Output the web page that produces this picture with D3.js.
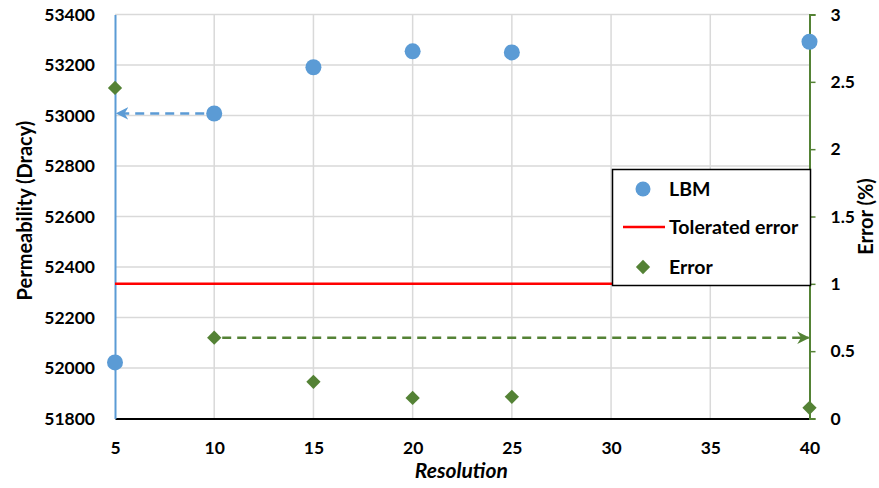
<!DOCTYPE html>
<html>
<head>
<meta charset="utf-8">
<script src="https://cdn.jsdelivr.net/npm/d3@7"></script>
<style>
  body { margin: 0; background: #fff; }
  text { font-family: Lato, "Open Sans", sans-serif; font-weight: bold; fill: #000; }
</style>
</head>
<body>
<svg id="chart" width="879" height="488"></svg>
<script>
// Grid resolution vs. permeability (left axis) and relative error (right axis)
const resolutions = [5, 10, 15, 20, 25, 40];
const lbmPermeability = [52022, 53008, 53191, 53254, 53250, 53292];
const errorPercent = [2.455, 0.60, 0.272, 0.153, 0.161, 0.079];
const toleratedError = 1;
const xTicks = [5, 10, 15, 20, 25, 30, 35, 40];
const leftTicks = [51800, 52000, 52200, 52400, 52600, 52800, 53000, 53200, 53400];
const rightTicks = [0, 0.5, 1, 1.5, 2, 2.5, 3];

const svg = d3.select("#chart");
const m = { left: 115, right: 809.5, top: 14.5, bottom: 418.5 };

const x = d3.scaleLinear().domain([5, 40]).range([m.left, m.right]);
const yL = d3.scaleLinear().domain([51800, 53400]).range([m.bottom, m.top]);
const yR = d3.scaleLinear().domain([0, 3]).range([m.bottom, m.top]);

const blue = "#5b9bd5", green = "#548235", grid = "#d9d9d9";
const tickFont = "17.5px";

// gridlines
svg.append("g").selectAll("line.h").data(leftTicks.slice(1)).join("line")
  .attr("x1", m.left).attr("x2", m.right)
  .attr("y1", d => yL(d)).attr("y2", d => yL(d))
  .attr("stroke", grid).attr("stroke-width", 1.5);
svg.append("g").selectAll("line.v").data(xTicks.slice(1, -1)).join("line")
  .attr("x1", d => x(d)).attr("x2", d => x(d))
  .attr("y1", m.top).attr("y2", m.bottom)
  .attr("stroke", grid).attr("stroke-width", 1.5);

// bottom axis
const xAxis = svg.append("g").attr("transform", `translate(0,${m.bottom})`)
  .call(d3.axisBottom(x).tickValues(xTicks).tickSize(0).tickPadding(23));
xAxis.select(".domain").attr("stroke", "#000").attr("stroke-width", 2);
xAxis.selectAll("text").style("font-size", tickFont);

// left axis
const lAxis = svg.append("g").attr("transform", `translate(${m.left},0)`)
  .call(d3.axisLeft(yL).tickValues(leftTicks).tickFormat(d3.format("d")).tickSize(0).tickPadding(20));
lAxis.select(".domain").attr("stroke", blue).attr("stroke-width", 2);
lAxis.selectAll("text").style("font-size", tickFont);

// right axis
const rAxis = svg.append("g").attr("transform", `translate(${m.right},0)`)
  .call(d3.axisRight(yR).tickValues(rightTicks).tickFormat(d => String(d)).tickSize(6).tickPadding(15));
rAxis.select(".domain").attr("stroke", green).attr("stroke-width", 2);
rAxis.selectAll(".tick line").attr("stroke", green).attr("stroke-width", 1.5);
rAxis.selectAll("text").style("font-size", tickFont);

// axis titles
svg.append("text").attr("transform", `translate(25,${(m.top + m.bottom) / 2 - 6}) rotate(-90)`)
  .attr("dy", "0.35em").attr("text-anchor", "middle").style("font-size", "20px").text("Permeability (Dracy)");
svg.append("text").attr("transform", `translate(866,${(m.top + m.bottom) / 2}) rotate(-90)`)
  .attr("dy", "0.35em").attr("text-anchor", "middle").style("font-size", "20px").text("Error (%)");
svg.append("text").attr("x", (m.left + m.right) / 2 - 1).attr("y", 478)
  .attr("text-anchor", "middle").style("font-size", "21px").style("font-style", "italic").text("Resolution");

// arrow markers
const defs = svg.append("defs");
[["arrBlue", blue], ["arrGreen", green]].forEach(([id, c]) => {
  defs.append("marker").attr("id", id).attr("viewBox", "0 0 10 10")
    .attr("refX", 9).attr("refY", 5).attr("markerWidth", 5).attr("markerHeight", 5)
    .attr("orient", "auto").attr("markerUnits", "strokeWidth")
    .append("path").attr("d", "M0,0 L10,5 L0,10 L3,5 Z").attr("fill", c);
});

// tolerated error line
svg.append("line")
  .attr("x1", x(5)).attr("x2", x(40))
  .attr("y1", yR(toleratedError)).attr("y2", yR(toleratedError))
  .attr("stroke", "#ff0000").attr("stroke-width", 2.5);

// dashed guide arrows
svg.append("line")
  .attr("x1", x(resolutions[1]) - 10).attr("x2", x(5) + 2)
  .attr("y1", yL(lbmPermeability[1])).attr("y2", yL(lbmPermeability[1]))
  .attr("stroke", blue).attr("stroke-width", 2.5).attr("stroke-dasharray", "9,6")
  .attr("marker-end", "url(#arrBlue)");
svg.append("line")
  .attr("x1", x(resolutions[1]) + 8).attr("x2", x(40) - 1)
  .attr("y1", yR(errorPercent[1])).attr("y2", yR(errorPercent[1]))
  .attr("stroke", green).attr("stroke-width", 2.5).attr("stroke-dasharray", "9,6")
  .attr("marker-end", "url(#arrGreen)");

// LBM points
svg.append("g").selectAll("circle").data(resolutions).join("circle")
  .attr("cx", d => x(d)).attr("cy", (d, i) => yL(lbmPermeability[i]))
  .attr("r", 8).attr("fill", blue);

// error points
const diamond = d3.symbol().type(d3.symbolDiamond2).size(130);
svg.append("g").selectAll("path").data(resolutions).join("path")
  .attr("d", diamond)
  .attr("transform", (d, i) => `translate(${x(d)},${yR(errorPercent[i])})`)
  .attr("fill", green);

// legend
const lg = svg.append("g");
lg.append("rect").attr("x", 612.5).attr("y", 169.5).attr("width", 198).attr("height", 116)
  .attr("fill", "#fff").attr("stroke", "#000").attr("stroke-width", 1.5);
lg.append("circle").attr("cx", 643).attr("cy", 189).attr("r", 7.5).attr("fill", blue);
lg.append("line").attr("x1", 623).attr("x2", 665).attr("y1", 227).attr("y2", 227)
  .attr("stroke", "#ff0000").attr("stroke-width", 2.5);
lg.append("path").attr("d", diamond).attr("transform", "translate(643,267)").attr("fill", green);
const legendLabels = ["LBM", "Tolerated error", "Error"];
lg.selectAll("text").data(legendLabels).join("text")
  .attr("x", 669).attr("y", (d, i) => [189, 227, 267][i]).attr("dy", "0.35em")
  .style("font-size", "19.5px").text(d => d);
</script>
</body>
</html>
